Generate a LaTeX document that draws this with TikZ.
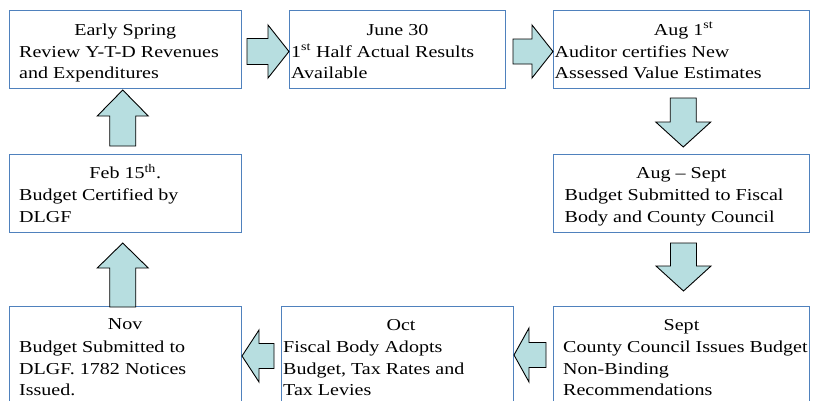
\documentclass[tikz,border=0pt]{standalone}
\usepackage{fontspec}
\setmainfont{Liberation Serif}[FakeStretch=1.2]
\usetikzlibrary{calc}
\definecolor{boxblue}{HTML}{4F81BD}
\definecolor{arrowfill}{HTML}{B7DEE0}
\tikzset{
  box/.style={draw=boxblue, line width=1pt, rectangle, inner sep=0pt, anchor=north west},
  ttl/.style={anchor=base, inner sep=0pt, font=\fontsize{16.7}{21.7}\selectfont},
  txt/.style={anchor=base west, inner sep=0pt, font=\fontsize{16.7}{21.7}\selectfont},
  barrow/.style={draw=black, fill=arrowfill, line width=0.9pt, line join=miter}
}
% tip, rotation, length, head length, head half-width, shaft half-width
\newcommand\blockarrow[6]{%
  \draw[barrow, shift={#1}, rotate=#2] (0,0) -- (-#4,#5) -- (-#4,#6) -- (-#3,#6)
    -- (-#3,-#6) -- (-#4,-#6) -- (-#4,-#5) -- cycle;}
\begin{document}
\begin{tikzpicture}[x=1pt, y=-1pt]
\useasboundingbox (0,0) rectangle (813,400);
\clip (0,0) rectangle (813,400);
\fill[white] (0,0) rectangle (813,400);

% boxes
\node[box, minimum width=232.5pt, minimum height=78pt] (b1) at (8.5,10) {};
\node[box, minimum width=216pt, minimum height=78pt] (b2) at (289,10) {};
\node[box, minimum width=256pt, minimum height=78pt] (b3) at (553,10) {};
\node[box, minimum width=256.5pt, minimum height=78pt] (b4) at (552.5,154) {};
\node[box, minimum width=256pt, minimum height=120pt] (b5) at (553,306) {};
\node[box, minimum width=232pt, minimum height=120pt] (b6) at (281,306) {};
\node[box, minimum width=232.5pt, minimum height=120pt] (b7) at (8.5,306) {};
\node[box, minimum width=232.5pt, minimum height=78pt] (b8) at (8.5,154) {};

% texts
\node[ttl] (t1a) at ($(b1.north)+(0,25)$) {Early Spring};
\node[txt] (t1b) at ($(b1.north west)+(10.5,47)$) {Review Y-T-D Revenues};
\node[txt] (t1c) at ($(b1.north west)+(10.5,68)$) {and Expenditures};

\node[ttl] (t2a) at ($(b2.north)+(0,25)$) {June 30};
\node[txt] (t2b) at ($(b2.north west)+(2,47)$) {1\textsuperscript{st} Half Actual Results};
\node[txt] (t2c) at ($(b2.north west)+(2,68)$) {Available};

\node[ttl] (t3a) at ($(b3.north)+(2,25)$) {Aug 1\textsuperscript{st}};
\node[txt] (t3b) at ($(b3.north west)+(1.5,47)$) {Auditor certifies New};
\node[txt] (t3c) at ($(b3.north west)+(1.5,68)$) {Assessed Value Estimates};

\node[ttl] (t4a) at ($(b4.north)+(0,24.5)$) {Aug – Sept};
\node[txt] (t4b) at ($(b4.north west)+(12,46.3)$) {Budget Submitted to Fiscal};
\node[txt] (t4c) at ($(b4.north west)+(12,68)$) {Body and County Council};

\node[ttl] (t5a) at ($(b5.north)+(0,24.5)$) {Sept};
\node[txt] (t5b) at ($(b5.north west)+(10,46.3)$) {County Council Issues Budget};
\node[txt] (t5c) at ($(b5.north west)+(10,68)$) {Non-Binding};
\node[txt] (t5d) at ($(b5.north west)+(10,89.7)$) {Recommendations};

\node[ttl] (t6a) at ($(b6.north west)+(120,24.5)$) {Oct};
\node[txt] (t6b) at ($(b6.north west)+(2,46.3)$) {Fiscal Body Adopts};
\node[txt] (t6c) at ($(b6.north west)+(2,68)$) {Budget, Tax Rates and};
\node[txt] (t6d) at ($(b6.north west)+(2,89.7)$) {Tax Levies};

\node[ttl] (t7a) at ($(b7.north)+(0,23.5)$) {Nov};
\node[txt] (t7b) at ($(b7.north west)+(10.5,46.3)$) {Budget Submitted to};
\node[txt] (t7c) at ($(b7.north west)+(10.5,68)$) {DLGF. 1782 Notices};
\node[txt] (t7d) at ($(b7.north west)+(10.5,89.7)$) {Issued.};

\node[ttl] (t8a) at ($(b8.north)+(0,24.5)$) {Feb 15\textsuperscript{th}.};
\node[txt] (t8b) at ($(b8.north west)+(10.5,46.3)$) {Budget Certified by};
\node[txt] (t8c) at ($(b8.north west)+(10.5,68)$) {DLGF};

% block arrows
\coordinate (a1) at ($(b2.west)+(0,2)$);
\coordinate (a2) at ($(b3.west)+(0,2)$);
\coordinate (a3) at ($(b4.north)+(2,-7)$);
\coordinate (a4) at ($(b5.north)+(2,-15)$);
\coordinate (a5) at ($(b6.north east)+(0,49)$);
\coordinate (a6) at ($(b7.north east)+(0,50)$);
\coordinate (a7) at ($(b8.north)+(-2.5,-64)$);
\coordinate (a8) at ($(b8.south)+(-2.5,10)$);
\blockarrow{(a1)}{0}{42}{21}{26.5}{13}
\blockarrow{(a2)}{0}{40}{21}{26.5}{12.5}
\blockarrow{(a3)}{-90}{49}{25}{27.5}{13}
\blockarrow{(a4)}{-90}{48}{25}{27.5}{13}
\blockarrow{(a5)}{180}{32}{15}{27}{12.5}
\blockarrow{(a6)}{180}{32}{17}{26}{12.5}
\blockarrow{(a7)}{90}{56}{26}{25.5}{13}
\blockarrow{(a8)}{90}{64}{25}{25.5}{13}
\end{tikzpicture}
\end{document}
